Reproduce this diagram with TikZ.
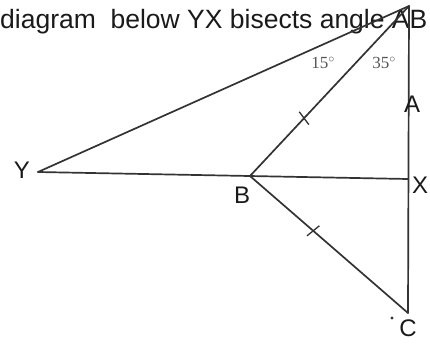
\documentclass[tikz,border=0pt]{standalone}
\usepackage{fontspec}
\setmainfont{Liberation Sans}
\newfontfamily\scanserif{Liberation Serif}
\usetikzlibrary{positioning,calc}
\definecolor{figline}{HTML}{333333}
\definecolor{figtext}{HTML}{1A1A1A}
\definecolor{figangle}{HTML}{555555}
\tikzset{
  edge/.style={draw=figline, line width=1.7pt, line cap=round},
  tickmark/.style={draw=figline, line width=1.3pt},
  ptlabel/.style={text=figtext, font=\fontsize{24}{24}\selectfont, inner sep=0pt},
  anglabel/.style={text=figangle, font=\scanserif\fontsize{17}{17}\selectfont, inner sep=0pt},
  question/.style={text=figtext, font=\fontsize{26.5}{26.5}\selectfont, inner sep=0pt, anchor=base west},
}

\begin{document}
\begin{tikzpicture}[x=1pt, y=-1pt]
\useasboundingbox (0,0) rectangle (430,343);
\clip (0,0) rectangle (430,343);

% question text
\node[question] (qtext) at (0,28) {diagram\ \ below YX bisects angle AB};

% points of the figure
\coordinate (top) at (409,6);
\coordinate (Yp) at (38,172);
\coordinate (Bp) at (250,176);
\coordinate (Xp) at (408,179);
\coordinate (Cp) at (408,313);

\draw[edge] (top) -- (Yp);
\draw[edge] (top) -- (Bp);
\draw[edge] (Yp) -- (Xp);
\draw[edge] (Bp) -- (Cp);
\draw[edge] (top) -- (Cp);

% equal-length ticks
\coordinate (t1) at ($(top)!0.66!(Bp)$);
\coordinate (t2) at ($(Bp)!0.40!(Cp)$);
\draw[tickmark] ($(t1)!8pt!80:(Bp)$) -- ($(t1)!8pt!-100:(Bp)$);
\draw[tickmark] ($(t2)!8pt!80:(Cp)$) -- ($(t2)!8pt!-100:(Cp)$);

% angles
\node[anglabel] (a15) at (323,63) {15$^{\circ}$};
\node[anglabel] (a35) at (384,63) {35$^{\circ}$};

% labels
\node[ptlabel] (lY) at (22,170) {Y};
\node[ptlabel] (lB) at (242,195) {B};
\node[ptlabel] (lX) at (420,185) {X};
\node[ptlabel] (lA) at (412,104) {A};
\node[ptlabel] (lC) at (408,328) {C};
\fill[figline] (392,318) circle (1.6pt);
\end{tikzpicture}
\end{document}
